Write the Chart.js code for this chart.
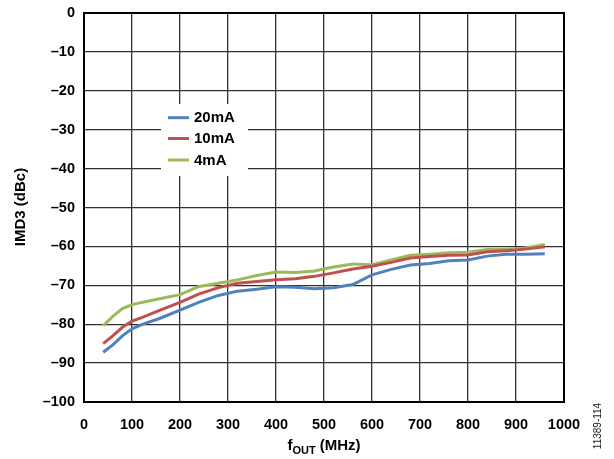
<!DOCTYPE html>
<html>
<head>
<meta charset="utf-8">
<script src="https://cdn.jsdelivr.net/npm/chart.js@4.4.1/dist/chart.umd.min.js"></script>
<style>
html,body{margin:0;padding:0;background:#fff;}
#wrap{width:614px;height:459px;position:relative;}
</style>
</head>
<body>
<div id="wrap"><canvas id="c"></canvas></div>
<script>
// ---- data ----
const freqMHz = [40,60,80,100,120,160,200,240,280,320,360,400,440,480,520,560,600,640,680,720,760,800,840,880,920,960];
const imd3_20mA = [-87.2,-85.3,-83.0,-81.2,-80.1,-78.4,-76.4,-74.3,-72.6,-71.5,-71.0,-70.4,-70.5,-70.9,-70.6,-69.8,-67.3,-65.9,-64.8,-64.4,-63.7,-63.5,-62.5,-62.0,-62.0,-61.9];
const imd3_10mA = [-85.0,-83.0,-80.8,-79.2,-78.3,-76.3,-74.4,-72.2,-70.6,-69.5,-69.0,-68.6,-68.3,-67.7,-66.8,-65.8,-65.1,-64.1,-63.0,-62.6,-62.3,-62.2,-61.4,-61.1,-60.7,-60.1];
const imd3_4mA  = [-80.4,-78.0,-76.0,-75.0,-74.4,-73.4,-72.4,-70.3,-69.5,-68.6,-67.5,-66.6,-66.7,-66.3,-65.3,-64.5,-64.7,-63.5,-62.3,-62.0,-61.6,-61.5,-60.8,-60.8,-60.4,-59.5];
const seriesLabels = ['20mA','10mA','4mA'];
const seriesColors = ['#4F81BD','#C0504D','#9BBB59'];
const xTicks = [0,100,200,300,400,500,600,700,800,900,1000];
const yTicks = [0,-10,-20,-30,-40,-50,-60,-70,-80,-90,-100];

const FONT = '"Liberation Sans", Arial, sans-serif';
const toPts = (ys) => ys.map((y,i)=>({x:freqMHz[i], y:y}));
const allSeries = [imd3_20mA, imd3_10mA, imd3_4mA];

const overlay = {
  id:'overlay',
  afterDatasetsDraw(chart){
    const ctx = chart.ctx, a = chart.chartArea;
    ctx.save();
    // plot frame
    ctx.strokeStyle = '#000'; ctx.lineWidth = 2;
    ctx.strokeRect(a.left, a.top, a.right - a.left, a.bottom - a.top);
    // legend
    const lx = 161, ly = 104, lw = 87, lh = 72;
    ctx.fillStyle = '#fff';
    ctx.fillRect(lx, ly, lw, lh);
    const rows = [117.7, 138.5, 160];
    ctx.font = 'bold 15px ' + FONT;
    ctx.textBaseline = 'middle'; ctx.textAlign = 'left';
    chart.data.datasets.forEach((ds, i) => {
      ctx.strokeStyle = ds.borderColor; ctx.lineWidth = 3;
      ctx.beginPath(); ctx.moveTo(168, rows[i]); ctx.lineTo(189, rows[i]); ctx.stroke();
      ctx.fillStyle = '#000';
      ctx.fillText(ds.label, 194, rows[i] + 0.5);
    });
    // y title
    ctx.save();
    ctx.translate(21, 207);
    ctx.rotate(-Math.PI/2);
    ctx.textAlign = 'center'; ctx.textBaseline = 'middle';
    ctx.font = 'bold 15px ' + FONT;
    ctx.fillText('IMD3 (dBc)', 0, 0);
    ctx.restore();
    // x title with subscript
    ctx.textBaseline = 'alphabetic'; ctx.textAlign = 'left';
    const f1 = 'bold 15px ' + FONT, f2 = 'bold 11px ' + FONT;
    ctx.font = f1; const wF = ctx.measureText('f').width;
    ctx.font = f2; const wSub = ctx.measureText('OUT').width;
    ctx.font = f1; const wRest = ctx.measureText(' (MHz)').width;
    const total = wF + wSub + wRest;
    let x0 = (a.left + a.right)/2 - total/2;
    const yb = 450;
    ctx.font = f1; ctx.fillText('f', x0, yb);
    ctx.font = f2; ctx.fillText('OUT', x0 + wF, yb + 4);
    ctx.font = f1; ctx.fillText(' (MHz)', x0 + wF + wSub, yb);
    // figure code
    ctx.save();
    ctx.translate(598, 426);
    ctx.rotate(-Math.PI/2);
    ctx.textAlign = 'center'; ctx.textBaseline = 'middle';
    ctx.font = '10px ' + FONT;
    ctx.fillStyle = '#222';
    ctx.fillText('11389-114', 0, 0);
    ctx.restore();
    ctx.restore();
  }
};

new Chart(document.getElementById('c'), {
  type:'line',
  data:{
    datasets: allSeries.map((s,i)=>({
      label: seriesLabels[i],
      data: toPts(s),
      borderColor: seriesColors[i],
      backgroundColor: seriesColors[i],
      borderWidth: 3,
      pointRadius: 0,
      tension: 0,
      fill:false
    }))
  },
  options:{
    responsive:true,
    maintainAspectRatio:false,
    animation:false,
    devicePixelRatio: 1,
    layout:{padding:{top:13,right:50,left:0,bottom:0}},
    plugins:{legend:{display:false},tooltip:{enabled:false}},
    scales:{
      x:{
        type:'linear', min:0, max:1000,
        afterBuildTicks(s){ s.ticks = xTicks.map(v=>({value:v})); },
        afterFit(s){ s.height = 57; s.paddingLeft = 0; s.paddingRight = 0; },
        ticks:{font:{family:FONT,size:14.5,weight:'bold'},color:'#000',padding:14,maxRotation:0,autoSkip:false,
          callback:(v)=> String(v)},
        grid:{color:'#303030',lineWidth:1.3,drawTicks:false},
        border:{display:true,color:'#000',width:2}
      },
      y:{
        type:'linear', min:-100, max:0,
        afterBuildTicks(s){ s.ticks = yTicks.map(v=>({value:v})); },
        afterFit(s){ s.width = 84; s.paddingTop = 0; s.paddingBottom = 0; },
        ticks:{font:{family:FONT,size:14.5,weight:'bold'},color:'#000',padding:9,autoSkip:false,
          callback:(v)=> v < 0 ? '\u2013' + Math.abs(v) : String(v)},
        grid:{color:'#303030',lineWidth:1.3,drawTicks:false},
        border:{display:true,color:'#000',width:2}
      }
    }
  },
  plugins:[overlay]
});
</script>
</body>
</html>
